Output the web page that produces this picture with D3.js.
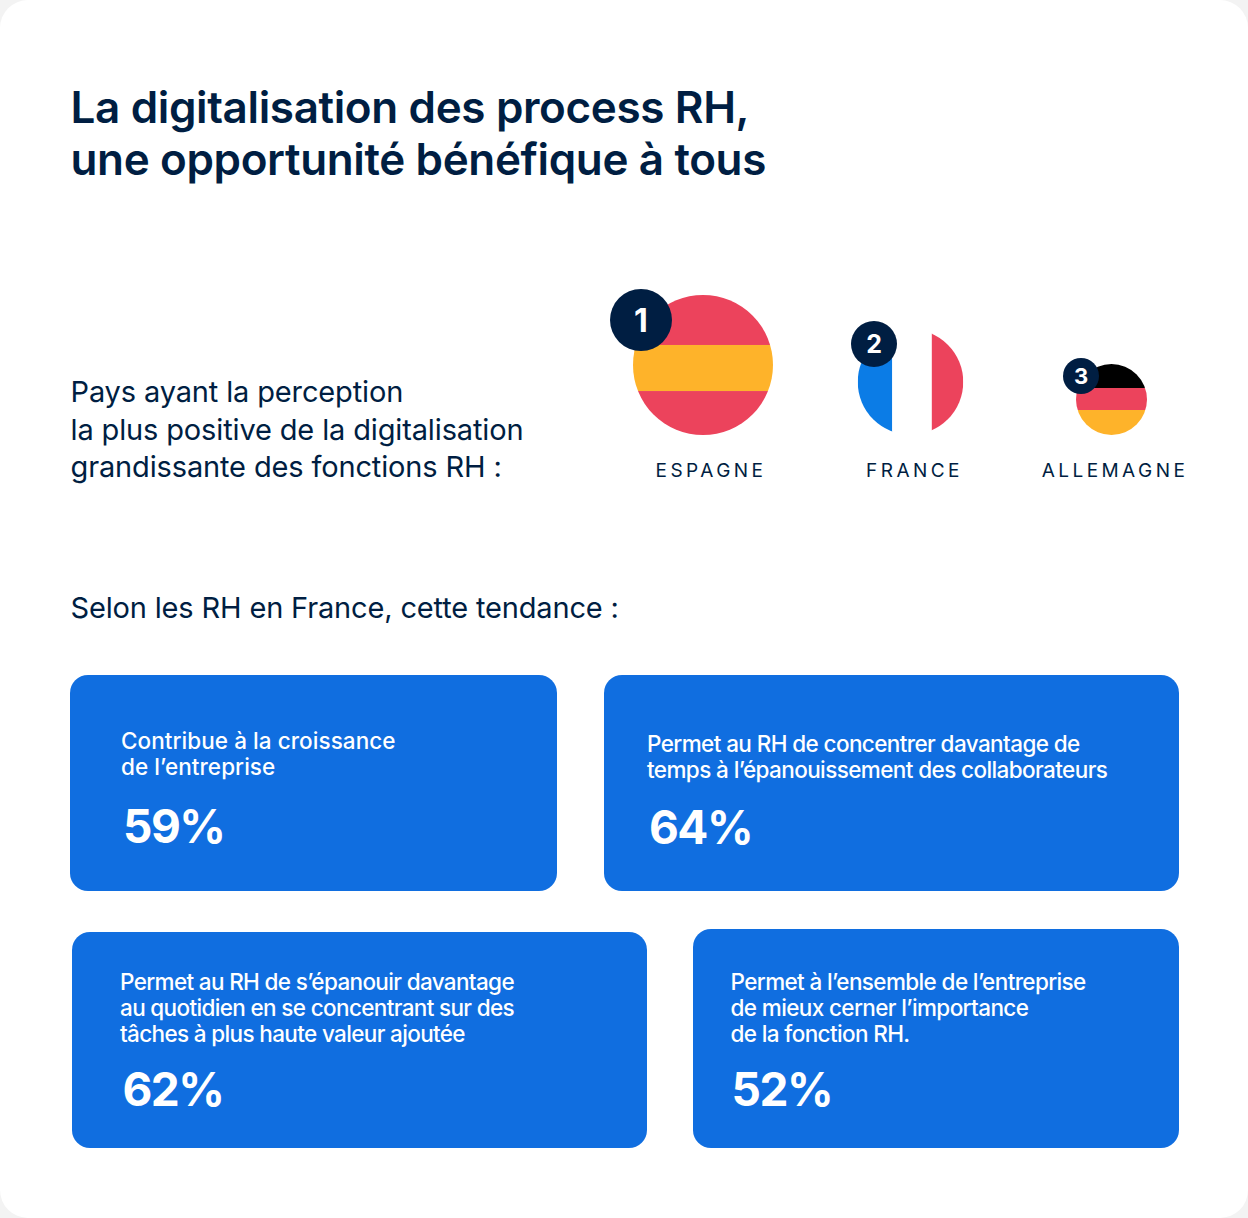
<!DOCTYPE html>
<html>
<head>
<meta charset="utf-8">
<script src="https://cdn.jsdelivr.net/npm/d3@7"></script>
<style>
  html, body { margin: 0; padding: 0; background: #fff; }
  svg { display: block; }
  text { font-family: Inter, sans-serif; }
</style>
</head>
<body>
<svg id="chart" width="1248" height="1218"></svg>
<script>
var titleLines = ["La digitalisation des process RH,", "une opportunité bénéfique à tous"];
var introLines = ["Pays ayant la perception", "la plus positive de la digitalisation", "grandissante des fonctions RH :"];
var subtitle = "Selon les RH en France, cette tendance :";

var countries = ["ESPAGNE", "FRANCE", "ALLEMAGNE"];
var ranks = [1, 2, 3];
var flagColors = [
  ["#ec435c", "#feb32a", "#ec435c"],
  ["#0b7ce6", "#ffffff", "#ec435c"],
  ["#000000", "#ec435c", "#feb32a"]
];

var cardLabels = [
  ["Contribue à la croissance", "de l’entreprise"],
  ["Permet au RH de concentrer davantage de", "temps à l’épanouissement des collaborateurs"],
  ["Permet au RH de s’épanouir davantage", "au quotidien en se concentrant sur des", "tâches à plus haute valeur ajoutée"],
  ["Permet à l’ensemble de l’entreprise", "de mieux cerner l’importance", "de la fonction RH."]
];
var cardValues = [59, 64, 62, 52];

var navy = "#001e42", blue = "#106ee0";
var svg = d3.select("#chart");

// fond et coins arrondis
svg.append("rect").attr("width", 1248).attr("height", 1218).attr("fill", "#f3f3f3");
svg.append("rect").attr("width", 1248).attr("height", 1218).attr("rx", 28).attr("fill", "#ffffff");

function lines(g, rows, x, y, step, size, weight, color, spacing) {
  g.selectAll(null).data(rows).enter().append("text")
    .attr("x", x)
    .attr("y", function(d, i) { return y + i * step; })
    .attr("font-size", size)
    .attr("font-weight", weight)
    .attr("letter-spacing", spacing)
    .attr("fill", color)
    .text(function(d) { return d; });
}

lines(svg, titleLines, 70.5, 123, 52, 44, 600, navy, -0.36);
lines(svg, introLines, 70.5, 402, 37.5, 29, 400, navy, -0.14);
lines(svg, [subtitle], 70.5, 618, 0, 29, 400, navy, -0.16);

// drapeaux : le rayon suit le rang
var radius = d3.scaleLinear().domain([1, 3]).range([70, 35.5]);
var badge = d3.scaleOrdinal().domain(ranks).range([31, 23, 18]);
var badgeFont = d3.scaleOrdinal().domain(ranks).range([32, 25, 22]);
var flagX = d3.scaleOrdinal().domain(ranks).range([703, 910.5, 1111.5]);
var flagY = d3.scaleOrdinal().domain(ranks).range([365, 382, 399.5]);
var badgeX = d3.scaleOrdinal().domain(ranks).range([641, 874, 1081]);
var badgeY = d3.scaleOrdinal().domain(ranks).range([320, 344, 376]);
var labelX = d3.scaleOrdinal().domain(ranks).range([711, 914.5, 1115]);
// bords des bandes, en part du diametre
var stripeStops = [
  [0, 0.357, 0.686, 1],
  [0, 0.327, 0.702, 1],
  [0, 0.338, 0.648, 1]
];
var defs = svg.append("defs");

ranks.forEach(function(rank, i) {
  var r = radius(rank), cx = flagX(rank), cy = flagY(rank);
  var vertical = countries[i] === "FRANCE";
  defs.append("clipPath").attr("id", "flag" + rank)
    .append("circle").attr("cx", cx).attr("cy", cy).attr("r", r);

  var stripe = d3.scaleLinear().domain([0, 1])
    .range(vertical ? [cx - r, cx + r] : [cy - r, cy + r]);
  var g = svg.append("g").attr("clip-path", "url(#flag" + rank + ")");
  g.selectAll("rect").data(flagColors[i]).enter().append("rect")
    .attr("x", function(d, j) { return vertical ? stripe(stripeStops[i][j]) : cx - r; })
    .attr("y", function(d, j) { return vertical ? cy - r : stripe(stripeStops[i][j]); })
    .attr("width", function(d, j) { return vertical ? stripe(stripeStops[i][j + 1]) - stripe(stripeStops[i][j]) : 2 * r; })
    .attr("height", function(d, j) { return vertical ? 2 * r : stripe(stripeStops[i][j + 1]) - stripe(stripeStops[i][j]); })
    .attr("fill", function(d) { return d; });

  svg.append("circle")
    .attr("cx", badgeX(rank)).attr("cy", badgeY(rank)).attr("r", badge(rank))
    .attr("fill", navy);
  svg.append("text")
    .attr("x", badgeX(rank)).attr("y", badgeY(rank))
    .attr("dy", "0.36em")
    .attr("text-anchor", "middle")
    .attr("font-size", badgeFont(rank))
    .attr("font-weight", 700)
    .attr("fill", "#fff")
    .text(rank);

  svg.append("text")
    .attr("x", labelX(rank)).attr("y", 477)
    .attr("text-anchor", "middle")
    .attr("font-size", 19)
    .attr("letter-spacing", 3.45)
    .attr("fill", navy)
    .text(countries[i]);
});

// cartes bleues
var cardBox = [
  [70, 675, 487, 216],
  [604, 675, 575, 216],
  [72, 932, 575, 216],
  [693, 929, 486, 219]
];
var cardText = [
  [121, 749, 123, 843, 0.06],
  [647, 752, 649, 844, -0.6],
  [120, 990, 122.5, 1106, -0.65],
  [730.5, 990, 731.5, 1106, -0.62]
];

cardValues.forEach(function(v, i) {
  var b = cardBox[i], t = cardText[i];
  var g = svg.append("g");
  g.append("rect")
    .attr("x", b[0]).attr("y", b[1]).attr("width", b[2]).attr("height", b[3])
    .attr("rx", 18).attr("fill", blue);
  lines(g, cardLabels[i], t[0], t[1], 26, 22.5, 500, "#fff", t[4]);
  g.append("text")
    .attr("x", t[2]).attr("y", t[3])
    .attr("font-size", 46).attr("font-weight", 700)
    .attr("letter-spacing", -1.5)
    .attr("fill", "#fff")
    .text(v + "%");
});
</script>
</body>
</html>
